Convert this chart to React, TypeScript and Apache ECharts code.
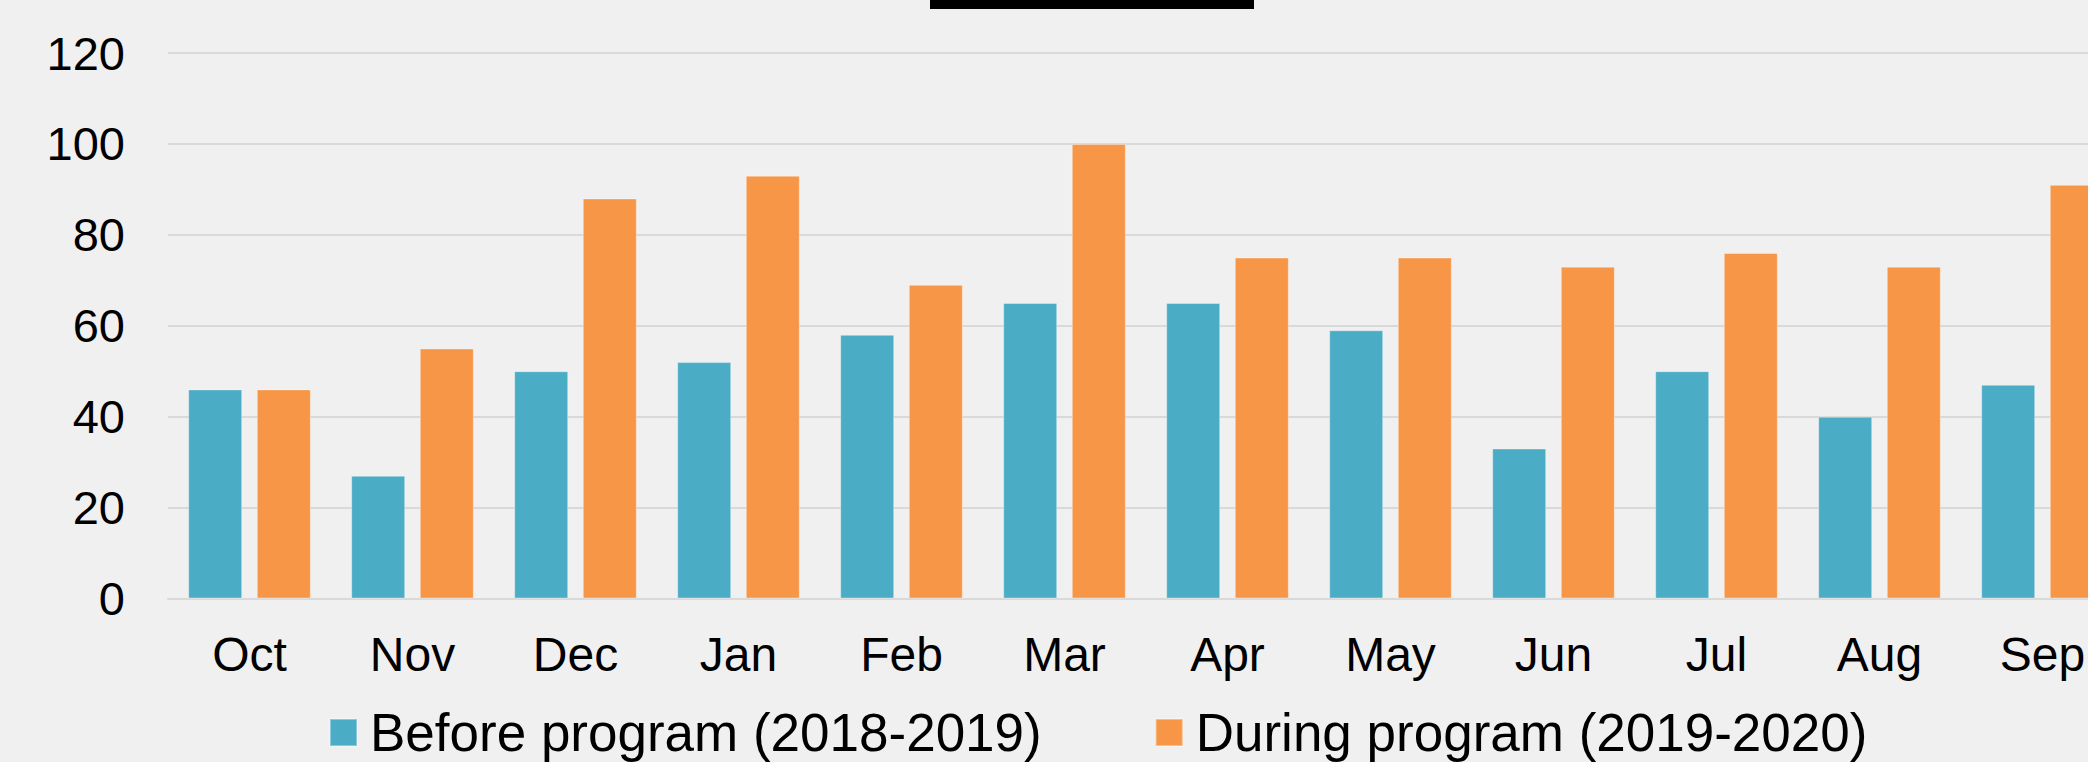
import React, { useEffect, useRef } from "react";
import * as echarts from "echarts";

const categories = ["Oct", "Nov", "Dec", "Jan", "Feb", "Mar", "Apr", "May", "Jun", "Jul", "Aug", "Sep"];
const beforeValues = [46, 27, 50, 52, 58, 65, 65, 59, 33, 50, 40, 47];
const duringValues = [46, 55, 88, 93, 69, 100, 75, 75, 73, 76, 73, 91];
const seriesNames = ["Before program (2018-2019)", "During program (2019-2020)"];
const yTicks = { min: 0, max: 120, interval: 20 };

const FONT = "'Liberation Sans', Arial, sans-serif";

export default function App() {
  const ref = useRef<HTMLDivElement>(null);
  useEffect(() => {
    if (!ref.current) return;
    const chart = echarts.init(ref.current, undefined, { renderer: "svg" });
    chart.setOption({
      animation: false,
      backgroundColor: "#f0f0f0",
      textStyle: { fontFamily: FONT },
      graphic: [
        { type: "rect", left: 930, top: 0, shape: { width: 324, height: 9 }, style: { fill: "#000" } },
      ],
      legend: {
        left: 329,
        top: 706,
        padding: 0,
        itemWidth: 27,
        itemHeight: 27,
        itemGap: 113,
        icon: "rect",
        textStyle: { fontSize: 53, color: "#000", fontFamily: FONT, padding: [0, 0, 0, 8] },
        data: seriesNames,
      },
      grid: {
        left: 168,
        top: 53,
        width: 1956,
        bottom: 163.5,
        containLabel: false,
        outerBoundsMode: "none",
      },
      xAxis: {
        type: "category",
        data: categories,
        axisLine: { show: true, lineStyle: { color: "#d9d9d9", width: 2 } },
        axisTick: { show: false },
        axisLabel: { fontSize: 48, color: "#000", margin: 32, fontFamily: FONT },
      },
      yAxis: {
        type: "value",
        min: yTicks.min,
        max: yTicks.max,
        interval: yTicks.interval,
        axisLine: { show: false },
        axisTick: { show: false },
        axisLabel: { fontSize: 47, color: "#000", margin: 43, fontFamily: FONT },
        splitLine: { lineStyle: { color: "#d9d9d9", width: 2 } },
      },
      series: [
        {
          name: seriesNames[0],
          type: "bar",
          data: beforeValues,
          barWidth: 54,
          barGap: "27%",
          itemStyle: { color: "#4bacc6", borderColor: "rgba(255,255,255,0.35)", borderWidth: 1 },
        },
        {
          name: seriesNames[1],
          type: "bar",
          data: duringValues,
          barWidth: 54,
          barGap: "27%",
          itemStyle: { color: "#f79646", borderColor: "rgba(255,255,255,0.35)", borderWidth: 1 },
        },
      ],
    });
    return () => chart.dispose();
  }, []);
  return (
    <div
      ref={ref}
      style={{ position: "fixed", left: 0, top: 0, width: 2088, height: 762 }}
    />
  );
}
